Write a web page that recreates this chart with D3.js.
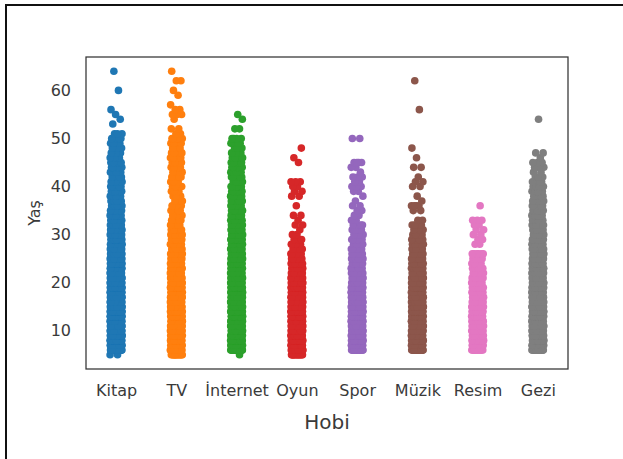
<!DOCTYPE html>
<html>
<head>
<meta charset="utf-8">
<script src="https://cdn.jsdelivr.net/npm/d3@7"></script>
<style>
  html, body { margin: 0; padding: 0; background: #fff; }
  svg { display: block; font-family: "DejaVu Sans", sans-serif; }
</style>
</head>
<body>
<svg id="chart" width="623" height="459"></svg>
<script>
// Hobby categories and their colours
const categories = ["Kitap", "TV", "İnternet", "Oyun", "Spor", "Müzik", "Resim", "Gezi"];
const colors = ["#1f77b4", "#ff7f0e", "#2ca02c", "#d62728", "#9467bd", "#8c564b", "#e377c2", "#7f7f7f"];
const yTicks = [10, 20, 30, 40, 50, 60];

// Number of respondents at each age, starting at age 5 (ages 5..64)
const firstAge = 5;
const kitapCounts = [
  2, 30, 35, 40, 40, 40, 40, 40, 40, 40,
  40, 38, 38, 36, 35, 34, 32, 30, 28, 26,
  24, 22, 20, 18, 17, 16, 14, 12, 11, 10,
  9, 9, 8, 8, 8, 7, 7, 6, 6, 6,
  6, 5, 5, 5, 5, 4, 3, 0, 1, 1,
  1, 1, 0, 0, 0, 1, 0, 0, 0, 1
];
const tvCounts = [
  14, 22, 25, 25, 25, 25, 25, 25, 25, 25,
  25, 25, 25, 24, 24, 22, 20, 18, 17, 16,
  15, 14, 12, 11, 10, 9, 8, 6, 5, 4,
  4, 4, 3, 4, 3, 5, 3, 4, 4, 5,
  5, 4, 5, 3, 5, 7, 2, 2, 0, 1,
  3, 2, 1, 0, 1, 1, 0, 2, 0, 1
];
const internetCounts = [
  1, 25, 28, 28, 28, 28, 28, 28, 28, 28,
  28, 28, 28, 27, 26, 25, 24, 22, 21, 20,
  19, 18, 17, 16, 15, 14, 13, 12, 11, 11,
  10, 10, 9, 9, 8, 8, 7, 7, 6, 6,
  6, 5, 5, 4, 5, 4, 0, 2, 0, 1,
  1, 0, 0, 0, 0, 0, 0, 0, 0, 0
];
const oyunCounts = [
  14, 25, 28, 28, 28, 28, 28, 28, 28, 28,
  28, 27, 26, 24, 22, 20, 18, 16, 14, 12,
  10, 8, 5, 3, 3, 2, 1, 2, 1, 2,
  0, 1, 0, 2, 2, 2, 3, 0, 0, 0,
  1, 1, 0, 1, 0, 0, 0, 0, 0, 0,
  0, 0, 0, 0, 0, 0, 0, 0, 0, 0
];
const sporCounts = [
  0, 20, 24, 24, 24, 24, 24, 24, 24, 24,
  24, 24, 22, 20, 18, 16, 14, 13, 12, 11,
  10, 9, 8, 7, 6, 5, 5, 4, 2, 2,
  2, 2, 1, 1, 2, 3, 2, 3, 1, 2,
  4, 0, 0, 0, 0, 2, 0, 0, 0, 0,
  0, 0, 0, 0, 0, 0, 0, 0, 0, 0
];
const muzikCounts = [
  0, 22, 26, 26, 26, 26, 26, 26, 26, 26,
  26, 26, 25, 24, 22, 20, 18, 16, 14, 12,
  11, 10, 9, 8, 7, 6, 3, 5, 2, 0,
  2, 4, 1, 1, 0, 2, 2, 1, 0, 2,
  0, 1, 0, 1, 0, 0, 0, 0, 0, 0,
  0, 1, 0, 0, 0, 0, 0, 1, 0, 0
];
const resimCounts = [
  0, 14, 16, 16, 16, 16, 16, 16, 16, 16,
  15, 14, 13, 12, 11, 10, 9, 8, 7, 6,
  5, 6, 0, 2, 2, 2, 2, 2, 3, 0,
  0, 1, 0, 0, 0, 0, 0, 0, 0, 0,
  0, 0, 0, 0, 0, 0, 0, 0, 0, 0,
  0, 0, 0, 0, 0, 0, 0, 0, 0, 0
];
const geziCounts = [
  0, 22, 25, 25, 25, 25, 25, 25, 25, 25,
  25, 24, 23, 22, 21, 20, 19, 18, 17, 16,
  15, 14, 13, 12, 11, 10, 10, 9, 9, 8,
  8, 7, 7, 6, 6, 5, 5, 3, 2, 4,
  3, 1, 2, 0, 0, 0, 0, 0, 0, 1,
  0, 0, 0, 0, 0, 0, 0, 0, 0, 0
];
const countsByHobby = [kitapCounts, tvCounts, internetCounts, oyunCounts,
                       sporCounts, muzikCounts, resimCounts, geziCounts];

// Expand counts into one record per respondent
const points = [];
countsByHobby.forEach((counts, ci) => {
  let k = 0;
  counts.forEach((n, i) => {
    for (let j = 0; j < n; j++) {
      // deterministic strip jitter in [-0.5, 0.5)
      const u = ((k * 0.6180339887 + ci * 0.37) % 1) - 0.5;
      points.push({ hobby: categories[ci], age: firstAge + i, jit: u, ci });
      k++;
    }
  });
});

const svg = d3.select("#chart");

// Outer frame of the cell
svg.append("rect")
  .attr("x", 6).attr("y", 5).attr("width", 700).attr("height", 600)
  .attr("fill", "none").attr("stroke", "#111").attr("stroke-width", 2);

const plot = { left: 86, right: 568, top: 57, bottom: 369 };

const x = d3.scalePoint()
  .domain(categories)
  .range([plot.left, plot.right])
  .padding(0.5);

const ages = points.map(p => p.age);
const aMin = d3.min(ages), aMax = d3.max(ages);
const pad = (aMax - aMin) * 0.05;
const y = d3.scaleLinear()
  .domain([aMin - pad, aMax + pad])
  .range([plot.bottom, plot.top]);

const jitterWidth = 0.2 * x.step();

// Points
svg.append("g")
  .selectAll("circle")
  .data(points)
  .join("circle")
  .attr("cx", d => x(d.hobby) + d.jit * jitterWidth)
  .attr("cy", d => y(d.age))
  .attr("r", 3.8)
  .attr("fill", d => colors[d.ci]);

// Axes frame
svg.append("rect")
  .attr("x", plot.left).attr("y", plot.top)
  .attr("width", plot.right - plot.left).attr("height", plot.bottom - plot.top)
  .attr("fill", "none").attr("stroke", "#333").attr("stroke-width", 1.25);

// Y axis
const yAxis = svg.append("g")
  .attr("transform", `translate(${plot.left},0)`)
  .call(d3.axisLeft(y).tickValues(yTicks).tickSize(0).tickPadding(15));
yAxis.select(".domain").remove();
yAxis.selectAll("text")
  .attr("font-size", "16px")
  .attr("font-family", "DejaVu Sans, sans-serif")
  .attr("fill", "#3a3a3a");

// X axis
const xAxis = svg.append("g")
  .attr("transform", `translate(0,${plot.bottom})`)
  .call(d3.axisBottom(x).tickSize(0).tickPadding(16));
xAxis.select(".domain").remove();
xAxis.selectAll("text")
  .attr("font-size", "16px")
  .attr("font-family", "DejaVu Sans, sans-serif")
  .attr("fill", "#3a3a3a");

// Axis titles
svg.append("text")
  .attr("x", (plot.left + plot.right) / 2)
  .attr("y", 429)
  .attr("text-anchor", "middle")
  .attr("font-size", "20px")
  .attr("fill", "#3a3a3a")
  .text("Hobi");

svg.append("text")
  .attr("transform", `translate(40,${(plot.top + plot.bottom) / 2}) rotate(-90)`)
  .attr("text-anchor", "middle")
  .attr("font-size", "16px")
  .attr("fill", "#3a3a3a")
  .text("Yaş");
</script>
</body>
</html>
